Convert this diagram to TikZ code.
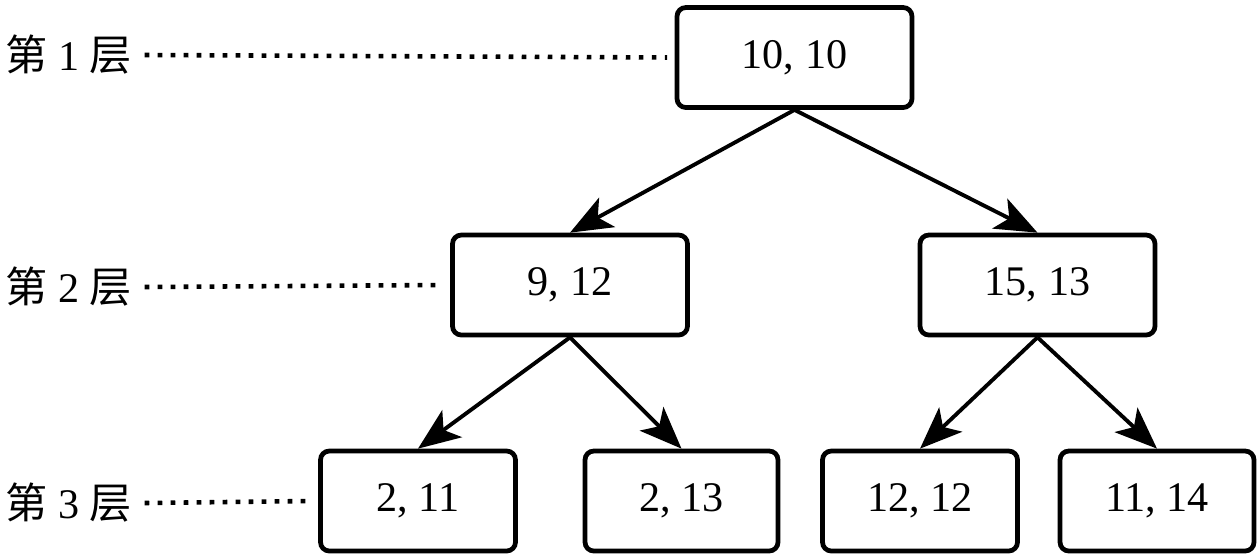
\documentclass[tikz,border=0pt]{standalone}
\usepackage{fontspec}
\setmainfont{Liberation Serif}
\newfontfamily\cjk{Noto Sans CJK SC}
\usetikzlibrary{arrows.meta, positioning}
\tikzset{
  pair/.style={
    rectangle,
    draw=black,
    line width=2.7pt,
    rounded corners=5pt,
    text centered,
    minimum height=2cm,
    font=\fontsize{24}{28}\selectfont
  },
  level/.style={
    anchor=west,
    inner sep=0pt,
    font=\fontsize{24}{28}\selectfont
  },
  edge/.style={
    line width=2.2pt,
    -{Stealth[length=24pt, width=19pt, inset=6pt]}
  },
  guide/.style={
    line width=2.6pt,
    dash pattern=on 2.6pt off 4.8pt
  }
}

\begin{document}
\begin{tikzpicture}[x=0.02cm, y=-0.02cm]
  \useasboundingbox (0,0) rectangle (1260,559);

  % Tree nodes
  \node[pair, minimum width=4.7cm] (root) at (794.5,57.5) {10, 10};
  \node[pair, minimum width=4.7cm] (left) at (570,285) {9, 12};
  \node[pair, minimum width=4.7cm] (right) at (1037.5,285) {15, 13};
  \node[pair, minimum width=3.9cm] (ll) at (418,501) {2, 11};
  \node[pair, minimum width=3.86cm] (lr) at (681.5,501) {2, 13};
  \node[pair, minimum width=3.9cm] (rl) at (920,501) {12, 12};
  \node[pair, minimum width=3.88cm] (rr) at (1157,501) {11, 14};

  % Level labels
  \node[level] (lev1) at (5,55) {{\cjk 第} 1 {\cjk 层}};
  \node[level] (lev2) at (5,287) {{\cjk 第} 2 {\cjk 层}};
  \node[level] (lev3) at (5,503) {{\cjk 第} 3 {\cjk 层}};

  % Guides
  \draw[guide] ([xshift=0.25cm]lev1.east) -- ([xshift=-0.15cm]root.west);
  \draw[guide] ([xshift=0.25cm]lev2.east) -- ([xshift=-0.15cm]left.west);
  \draw[guide] ([xshift=0.25cm]lev3.east) -- ([xshift=-0.15cm]ll.west);

  % Arrows
  \draw[edge] (root.south) -- (left.north);
  \draw[edge] (root.south) -- (right.north);
  \draw[edge] (left.south) -- (ll.north);
  \draw[edge] (left.south) -- (lr.north);
  \draw[edge] (right.south) -- (rl.north);
  \draw[edge] (right.south) -- (rr.north);
\end{tikzpicture}
\end{document}
